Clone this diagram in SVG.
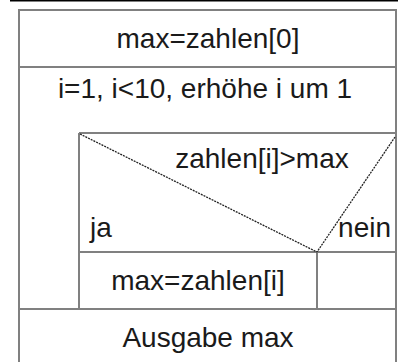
<svg xmlns="http://www.w3.org/2000/svg" width="398" height="362" viewBox="0 0 398 362">
<style>
.b{fill:none;stroke:#808080;stroke-width:2}
.d{fill:none;stroke:#222;stroke-width:1.3;stroke-dasharray:2 1}
text{font-family:"Liberation Sans",Arial,sans-serif;font-size:28px;fill:#1a1a1a}
.c{text-anchor:middle}
</style>
<rect x="0" y="0" width="398" height="362" fill="#fff"/>
<line x1="10" y1="0.75" x2="398" y2="0.75" stroke="#000" stroke-width="1.5"/>
<g id="connectors">
<path class="b" d="M19 370 V10 H396 V370"/>
<line class="b" x1="19" y1="67" x2="396" y2="67"/>
<line class="b" x1="79" y1="133" x2="396" y2="133"/>
<line class="b" x1="79" y1="133" x2="79" y2="309"/>
<line class="b" x1="79" y1="252" x2="396" y2="252"/>
<line class="b" x1="317" y1="252" x2="317" y2="309"/>
<line class="b" x1="19" y1="309" x2="396" y2="309"/>
<line class="d" x1="80" y1="134" x2="317" y2="252"/>
<line class="d" x1="395" y1="137" x2="317" y2="252"/>
</g>
<g id="n1"><text class="c" x="208" y="48">max=zahlen[0]</text></g>
<g id="n2"><text class="c" x="205" y="98">i=1, i&lt;10, erhöhe i um 1</text></g>
<g id="n3"><text class="c" x="262" y="168">zahlen[i]&gt;max</text></g>
<g id="n4"><text x="90" y="237">ja</text></g>
<g id="n5"><text x="391" y="237" text-anchor="end">nein</text></g>
<g id="n6"><text class="c" x="198" y="290">max=zahlen[i]</text></g>
<g id="n7"><text class="c" x="208" y="347">Ausgabe max</text></g>
</svg>
